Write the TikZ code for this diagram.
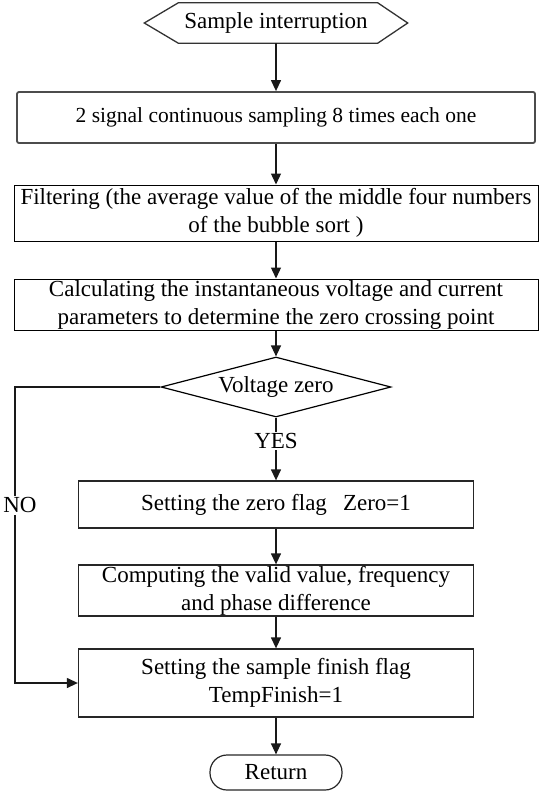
\documentclass[tikz,border=0pt]{standalone}
\usepackage{fontspec}
\setmainfont{Liberation Serif}
\usetikzlibrary{arrows.meta,shapes.geometric}
\begin{document}
\begin{tikzpicture}[x=1pt,y=-1pt,
  every node/.style={font=\fontsize{23}{28}\selectfont, align=center, inner xsep=0pt, inner ysep=0pt},
  boxa/.style={draw=black!70, line width=1.8pt, rounded corners=2pt, minimum width=518, minimum height=51},
  boxb/.style={draw=black, line width=1pt, minimum width=524},
  boxc/.style={draw=black!85, line width=1.3pt, minimum width=395},
  decision/.style={diamond, aspect=3.83, draw=black, line width=1.2pt, minimum width=230, minimum height=60},
  terminal/.style={draw=black!85, line width=1.2pt, rounded corners=17pt, minimum width=132, minimum height=35},
  arr/.style={draw=black!90, line width=1.3pt, -{Triangle[length=11pt,width=10pt]}},
  lbl/.style={fill=white, inner sep=1.5pt}
]
\useasboundingbox (0,0) rectangle (538,792);

% start hexagon
\node[minimum width=263, minimum height=40] (hex) at (276,23) {Sample interruption};
\draw[black!80, line width=1.3pt] (hex.west) -- ([xshift=34]hex.north west) -- ([xshift=-30]hex.north east) -- (hex.east) -- ([xshift=-30]hex.south east) -- ([xshift=34]hex.south west) -- cycle;

\node[boxa] (b2) at (276,117.5) {\fontsize{21.5}{26}\selectfont 2 signal continuous sampling 8 times each one};
\node[boxb, minimum height=56] (b3) at (276,213) {Filtering (the average value of the middle four numbers\\of the bubble sort )};
\node[boxb, minimum height=51] (b4) at (276,304.5) {Calculating the instantaneous voltage and current\\parameters to determine the zero crossing point};
\node[decision] (dia) at (276,387) {Voltage zero};
\node[boxc, minimum height=47] (b5) at (276,504.5) {Setting the zero flag\hspace{0.7em}Zero=1};
\node[boxc, minimum height=51] (b6) at (276,590.5) {Computing the valid value, frequency\\and phase difference};
\node[boxc, minimum height=68] (b7) at (276,683) {Setting the sample finish flag\\TempFinish=1};
\node[terminal] (ret) at (276,772.5) {Return};

\coordinate (nc) at (15,387);

\draw[arr] (hex.south) -- (b2.north);
\draw[arr] (b2.south) -- (b3.north);
\draw[arr] (b3.south) -- (b4.north);
\draw[arr] (b4.south) -- (dia.north);
\draw[arr] (dia.south) -- node[lbl, pos=0.37] (yes) {YES} (b5.north);
\draw[arr] (b5.south) -- (b6.north);
\draw[arr] (b6.south) -- (b7.north);
\draw[arr] (b7.south) -- (ret.north);
\draw[arr] (dia.west) -- (nc) |- node[lbl, pos=0.2, xshift=5pt] (no) {NO} (b7.west);
\end{tikzpicture}
\end{document}
